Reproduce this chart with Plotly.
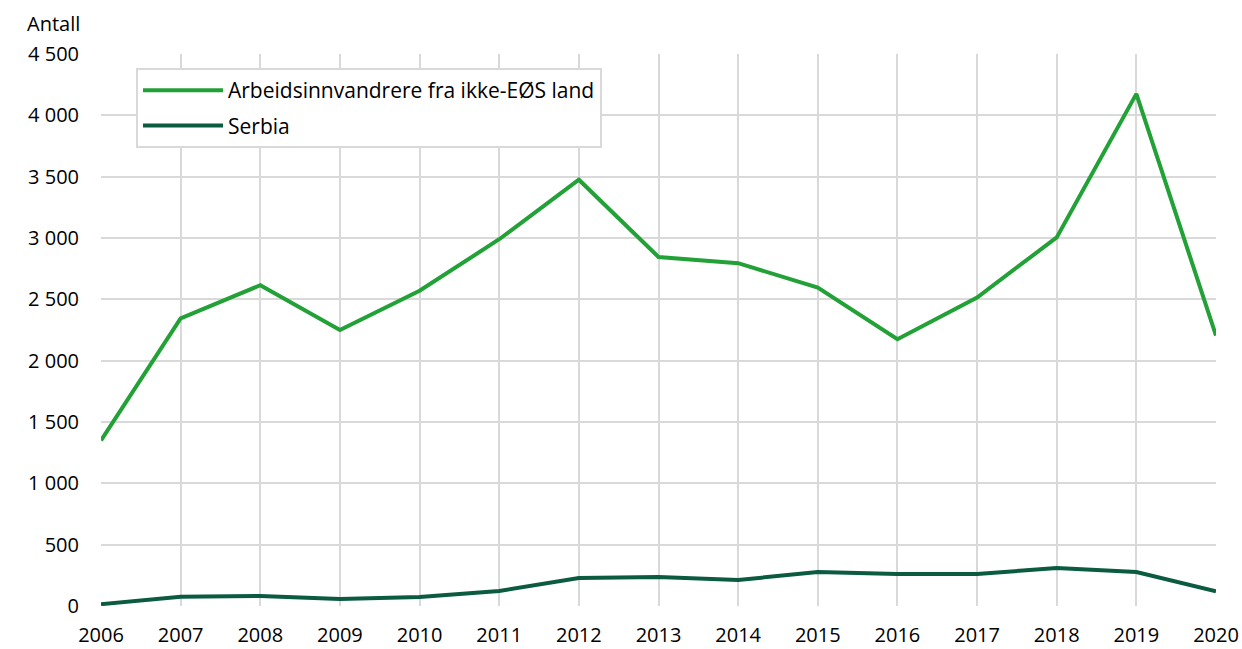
import plotly.graph_objects as go

years = list(range(2006, 2021))
ikke_eos = [1350, 2345, 2615, 2250, 2570, 2990, 3475, 2845, 2795, 2595, 2175, 2515, 3005, 4175, 2205]
serbia = [15, 75, 82, 57, 73, 122, 228, 236, 212, 277, 261, 261, 310, 277, 120]

name_a = "Arbeidsinnvandrere fra ikke-EØS land"
name_b = "Serbia"
y_title = "Antall"

fig = go.Figure()
fig.add_trace(go.Scatter(x=years, y=ikke_eos, mode="lines", name=name_a, legendgroup="a",
                         line=dict(color="#22a137", width=4)))
fig.add_trace(go.Scatter(x=years, y=serbia, mode="lines", name=name_b, legendgroup="b",
                         line=dict(color="#0b5b40", width=4)))

font = "Open Sans"
fig.update_layout(
    width=1242, height=649,
    margin=dict(l=101, r=26, t=54, b=43, autoexpand=False),
    paper_bgcolor="white", plot_bgcolor="white",
    separators=", ",
    font=dict(family=font, size=20, color="#000000"),
    showlegend=True,
    legend=dict(x=0.0314, y=0.9746, xanchor="left", yanchor="top",
                bordercolor="#d9d9d9", borderwidth=2, bgcolor="white",
                font=dict(family=font, size=21, color="#000"),
                itemwidth=80, traceorder="grouped", tracegroupgap=5),
    xaxis=dict(range=[2006, 2020], tickmode="array", tickvals=years,
               showgrid=True, gridcolor="#d9d9d9", gridwidth=2,
               zeroline=False, showline=False, ticks="", automargin=False,
               ticklabelstandoff=15, tickfont=dict(size=20)),
    yaxis=dict(range=[0, 4500], dtick=500, tickformat=",d",
               showgrid=True, gridcolor="#d9d9d9", gridwidth=2,
               zeroline=False, showline=False, ticks="", automargin=False,
               ticklabelstandoff=21, tickfont=dict(size=20)),
    annotations=[dict(text=y_title, xref="paper", yref="paper",
                      x=-0.068, y=1.055, xanchor="left", yanchor="middle",
                      showarrow=False, font=dict(family=font, size=20))],
)

fig.write_html("out.html", config={"displayModeBar": False},
               post_script="document.body.style.margin='0';document.body.style.overflow='hidden';")
